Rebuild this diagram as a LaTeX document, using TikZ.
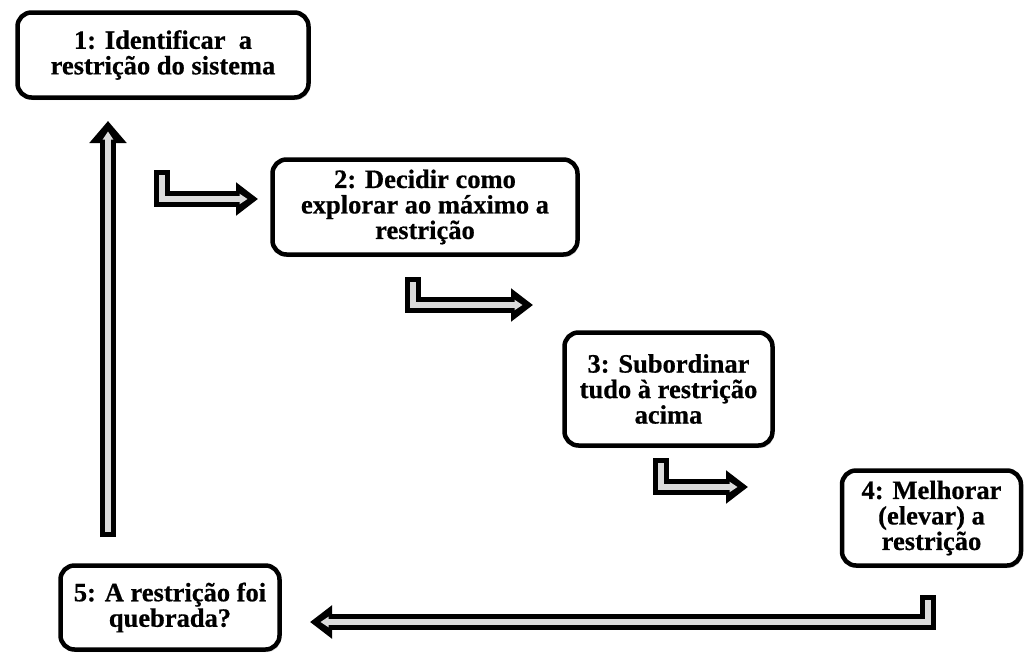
\documentclass[tikz,border=0pt]{standalone}
\usepackage{fontspec}
\setmainfont{Liberation Serif}[BoldFeatures={FakeBold=0.6}]
\usetikzlibrary{arrows.meta,shadows}
\begin{document}
\begin{tikzpicture}[x=1pt,y=-1pt,
  box/.style={draw=black, line width=4.5pt, rounded corners=14pt, fill=white,
    align=center, inner sep=0pt, font=\fontsize{26.5}{25.5}\selectfont\bfseries,
    drop shadow={shadow xshift=1.5pt, shadow yshift=-2.5pt, opacity=0.35, fill=gray}},
  dar/.style={draw=black, line width=16pt, line join=miter,
    -{Triangle[length=22pt,width=#1]},
    postaction={draw=gray!28, line width=6pt, line join=miter,
      shorten <=5pt, shorten >=10.5pt, -{Triangle[length=8pt,width=10pt]}}},
  dar/.default=32pt]
\useasboundingbox (0,0) rectangle (1026,657);

\node[box, minimum width=291pt, minimum height=85pt] (n1) at (163,55)
  {1: Identificar\ \ a\\restrição do sistema};
\node[box, minimum width=305pt, minimum height=95pt] (n2) at (425,207)
  {2: Decidir como\\explorar ao máximo a\\restrição};
\node[box, minimum width=208pt, minimum height=113pt] (n3) at (668.5,389)
  {3: Subordinar\\tudo à restrição\\acima};
\node[box, minimum width=179pt, minimum height=95pt] (n4) at (931.5,518)
  {4: Melhorar\\(elevar) a\\restrição};
\node[box, minimum width=219pt, minimum height=84pt] (n5) at (170,607.5)
  {5: A restrição foi\\quebrada?};

% connector end points
\coordinate (a12s) at (162,170);
\coordinate (a12e) at (258,199);
\coordinate (a23s) at (413,277);
\coordinate (a23e) at (533,305);
\coordinate (a34s) at (661,458);
\coordinate (a34e) at (748,487);
\coordinate (a45s) at (928,595);
\coordinate (a45e) at (310,622);
\coordinate (a51s) at (108,537);
\coordinate (a51e) at (108,121);

\draw[dar] (a12s) |- (a12e);
\draw[dar] (a23s) |- (a23e);
\draw[dar] (a34s) |- (a34e);
\draw[dar] (a45s) |- (a45e);
\draw[dar=36pt] (a51s) -- (a51e);
\end{tikzpicture}
\end{document}
